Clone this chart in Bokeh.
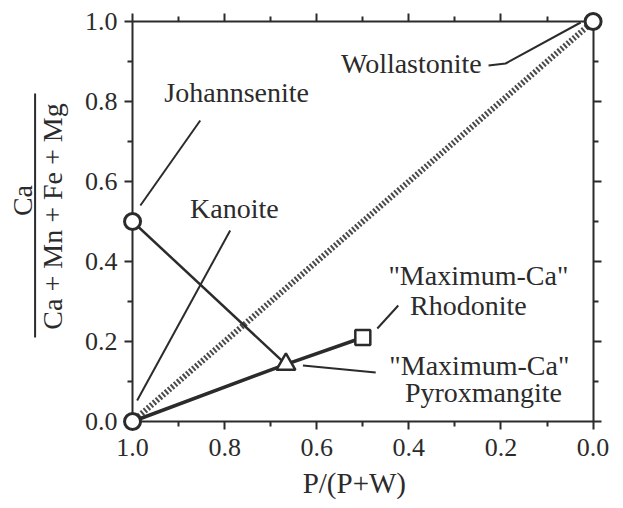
import math
from bokeh.plotting import figure
from bokeh.models import (Range1d, LinearAxis, FixedTicker, PrintfTickFormatter,
                          Label, Arrow)
from bokeh.embed import file_html
from bokeh.resources import INLINE

# ---------------- data ----------------
# end-member compositions: x = P/(P+W), y = Ca/(Ca+Mn+Fe+Mg)
kanoite_x, kanoite_y = 1.0, 0.0
johannsenite_x, johannsenite_y = 1.0, 0.5
wollastonite_x, wollastonite_y = 0.0, 1.0
rhodonite_x, rhodonite_y = 0.5, 0.21
pyroxmangite_x, pyroxmangite_y = 0.667, 0.143

circle_x = [kanoite_x, johannsenite_x, wollastonite_x]
circle_y = [kanoite_y, johannsenite_y, wollastonite_y]

x_major_ticks = [0.0, 0.2, 0.4, 0.6, 0.8, 1.0]
x_minor_ticks = [0.1, 0.3, 0.5, 0.7, 0.9]
y_major_ticks = [0.0, 0.2, 0.4, 0.6, 0.8, 1.0]
y_minor_ticks = [0.1, 0.3, 0.5, 0.7, 0.9]

INK = "#2b2b2b"
FONT = "Liberation Serif"

# the frame covers the whole canvas; axes are drawn at fixed data locations
p = figure(width=615, height=500, output_backend="svg", toolbar_location=None,
           x_range=Range1d(1.2867, -0.04865), y_range=Range1d(-0.1975, 1.0525),
           x_axis_location=None, y_axis_location=None,
           min_border_left=0, min_border_right=0, min_border_top=0,
           min_border_bottom=0, outline_line_color=None,
           background_fill_color="white", border_fill_color="white")
p.grid.visible = False


def make_axis(loc, fixed, labels, standoff):
    ax = LinearAxis(fixed_location=fixed, bounds=(0, 1))
    ticks = x_major_ticks if loc in ("below", "above") else y_major_ticks
    minors = x_minor_ticks if loc in ("below", "above") else y_minor_ticks
    ax.ticker = FixedTicker(ticks=ticks, minor_ticks=minors)
    ax.formatter = PrintfTickFormatter(format="%.1f")
    ax.axis_line_color = INK
    ax.axis_line_width = 2
    ax.major_tick_line_color = INK
    ax.major_tick_line_width = 2
    ax.minor_tick_line_color = INK
    ax.minor_tick_line_width = 2
    ax.major_tick_in = 0
    ax.major_tick_out = 8
    ax.minor_tick_in = 0
    ax.minor_tick_out = 5
    ax.major_label_standoff = standoff
    ax.major_label_text_font = FONT
    ax.major_label_text_font_size = "26px"
    ax.major_label_text_color = INK
    if not labels:
        ax.major_label_text_alpha = 0
    p.add_layout(ax, loc)
    return ax


make_axis("below", 0.0, True, 9)
make_axis("left", 1.0, True, 7)
make_axis("above", 1.0, False, 5)
make_axis("right", 0.0, False, 5)

# dotted kanoite - wollastonite join
p.line([kanoite_x, wollastonite_x], [kanoite_y, wollastonite_y],
       line_width=6, line_dash="2 2", line_color="#4a4a4a")
# johannsenite - pyroxmangite
p.line([johannsenite_x, pyroxmangite_x], [johannsenite_y, pyroxmangite_y],
       line_width=2.5, line_color=INK)
# kanoite - pyroxmangite - rhodonite
p.line([kanoite_x, pyroxmangite_x, rhodonite_x],
       [kanoite_y, pyroxmangite_y, rhodonite_y],
       line_width=3.5, line_color=INK)

# leader lines
leaders = [
    ([0.853, 0.983], [0.7525, 0.54]),
    ([0.788, 0.99], [0.4775, 0.0525]),
    ([0.227, 0.19, 0.027], [0.89, 0.895, 0.9975]),
    ([0.4685, 0.423], [0.2325, 0.29]),
    ([0.63, 0.472], [0.14, 0.1225]),
]
for lx, ly in leaders:
    p.line(lx, ly, line_width=2, line_color=INK)

# markers (drawn above the axes)
p.scatter(circle_x, circle_y, marker="circle", size=16, line_width=3,
          line_color=INK, fill_color="white", level="overlay")
p.scatter([rhodonite_x], [rhodonite_y], marker="square", size=15, line_width=2.5,
          line_color=INK, fill_color="white", level="overlay")
p.scatter([pyroxmangite_x], [pyroxmangite_y], marker="triangle", size=19,
          line_width=2.5, line_color=INK, fill_color="white", level="overlay")


def lab(x, y, text, size="28px", angle=0.0):
    p.add_layout(Label(x=x, y=y, text=text, text_align="center",
                       text_baseline="middle", text_font=FONT,
                       text_font_size=size, text_color=INK, angle=angle))


lab(0.774, 0.8225, "Johannsenite")
lab(0.779, 0.5325, "Kanoite")
lab(0.3946, 0.895, "Wollastonite")
lab(0.249, 0.365, '"Maximum-Ca"')
lab(0.271, 0.29, "Rhodonite")
lab(0.247, 0.14, '"Maximum-Ca"')
lab(0.238, 0.0725, "Pyroxmangite")

# axis titles
lab(0.5184, -0.153, "P/(P+W)", size="29px")
lab(1.2400, 0.5525, "Ca", angle=math.pi / 2)
lab(1.1740, 0.5125, "Ca + Mn + Fe + Mg", angle=math.pi / 2)
p.add_layout(Arrow(start=None, end=None, x_start=1.2116, y_start=0.21,
                   x_end=1.2116, y_end=0.82, line_width=2, line_color=INK))

open("out.html", "w").write(file_html(p, INLINE))
